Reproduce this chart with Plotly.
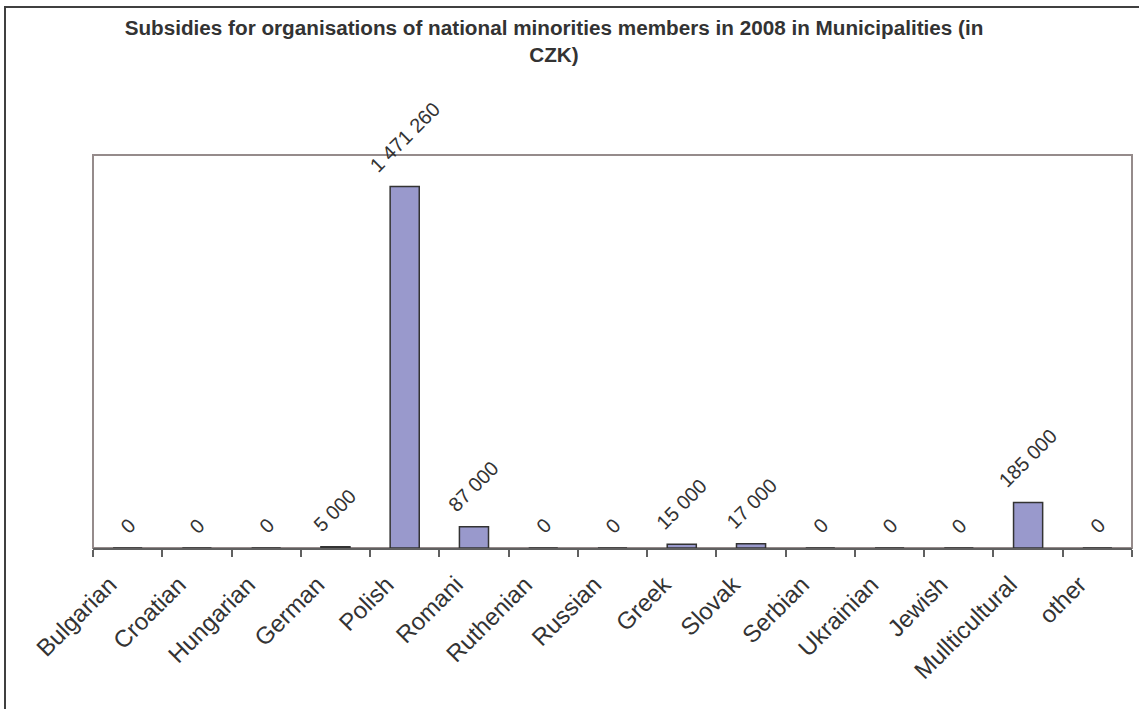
import plotly.graph_objects as go

categories = ["Bulgarian", "Croatian", "Hungarian", "German", "Polish", "Romani",
              "Ruthenian", "Russian", "Greek", "Slovak", "Serbian", "Ukrainian",
              "Jewish", "Mullticultural", "other"]
values = [0, 0, 0, 5000, 1471260, 87000, 0, 0, 15000, 17000, 0, 0, 0, 185000, 0]
value_labels = [f"{v:,}".replace(",", " ") for v in values]
title_text = "Subsidies for organisations of national minorities members in 2008 in Municipalities (in<br>CZK)"

W, H = 1139, 709
L, R, T, B = 93, 7, 155, 161

fig = go.Figure()
fig.add_trace(go.Bar(
    x=categories, y=values, width=0.42,
    marker=dict(color="#9999CC", line=dict(color="#333333", width=1.5)),
    hoverinfo="x+y",
))

for c, v, t in zip(categories, values, value_labels):
    fig.add_annotation(x=c, y=v, xref="x", yref="y", text=t, showarrow=False,
                       textangle=-45, xanchor="center", yanchor="bottom", yshift=8,
                       font=dict(family="Liberation Sans, Arial, sans-serif", size=20, color="#333333"))

pw = W - L - R
ph = H - T - B
# outer frame
fig.add_shape(type="rect", xref="paper", yref="paper",
              x0=(5 - L) / pw, x1=1.1, y0=-0.6, y1=(H - B - 7) / ph,
              line=dict(color="#404040", width=2), layer="below")
# plot area border
fig.add_shape(type="rect", xref="paper", yref="paper", x0=0, x1=1, y0=0, y1=1,
              line=dict(color="#958b8b", width=2), layer="below")

fig.update_layout(
    width=W, height=H,
    margin=dict(l=L, r=R, t=T, b=B),
    paper_bgcolor="white", plot_bgcolor="white",
    showlegend=False,
    title=dict(text=title_text, xref="container", yref="container",
               x=554 / W, y=1 - 35 / H, xanchor="center", yanchor="middle",
               font=dict(family="Liberation Sans, Arial, sans-serif",
                         size=20.7, color="#333333", weight="bold")),
    xaxis=dict(type="category", tickson="boundaries", ticks="outside", ticklen=7,
               tickcolor="#606060", tickwidth=1.5, showline=True, linecolor="#606060", linewidth=2,
               tickangle=-45, showgrid=False, zeroline=False,
               ticklabelshift=-18, ticklabelstandoff=11,
               tickfont=dict(family="Liberation Sans, Arial, sans-serif", size=24, color="#333333")),
    yaxis=dict(range=[0, 1600000], showticklabels=False, showgrid=False, zeroline=False,
               ticks="", showline=False),
)

fig.write_html("out.html", config={"displayModeBar": False},
               post_script="document.body.style.margin='0';")
